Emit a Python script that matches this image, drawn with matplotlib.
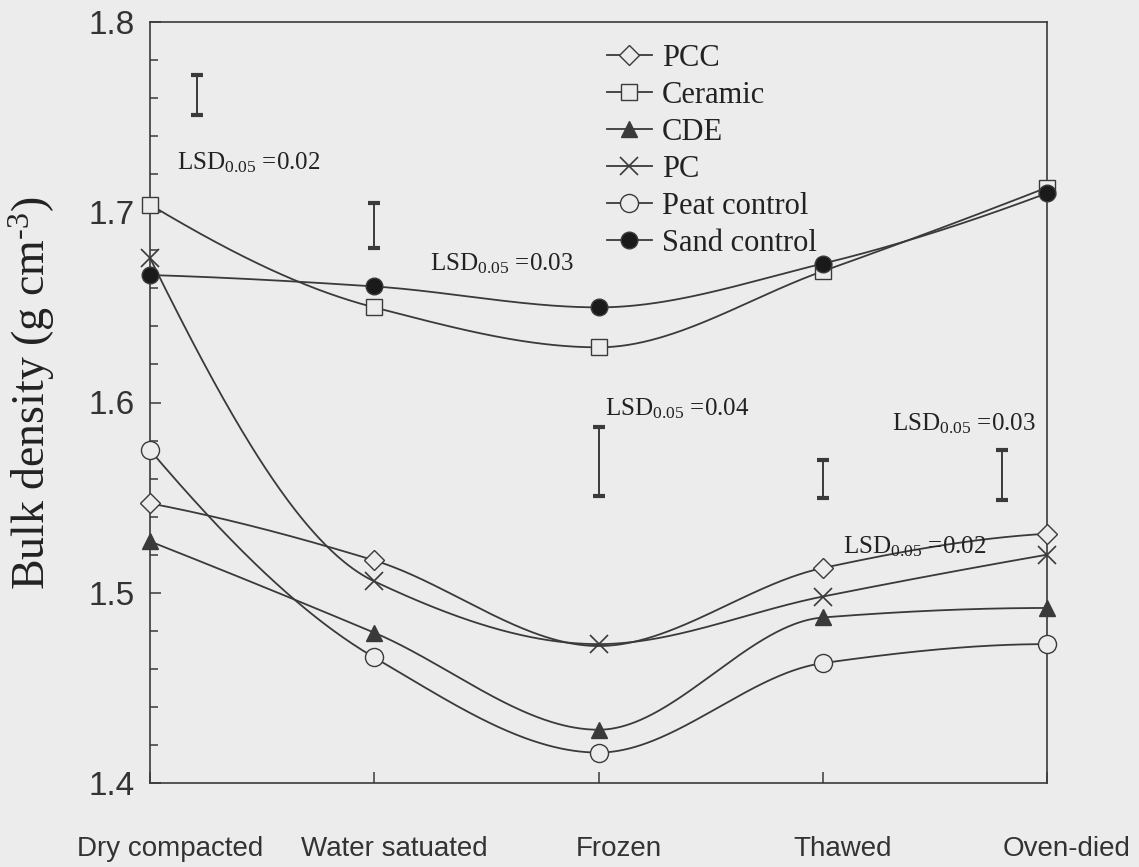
import numpy as np
import matplotlib
matplotlib.use("Agg")
import matplotlib.pyplot as plt
from matplotlib.ticker import MultipleLocator
import matplotlib.transforms as mtrans

plt.rcParams['mathtext.fontset'] = 'custom'
plt.rcParams['mathtext.rm'] = 'Liberation Serif'
plt.rcParams['mathtext.it'] = 'Liberation Serif:italic'
plt.rcParams['mathtext.bf'] = 'Liberation Serif:bold'

# ---------------- data ----------------
categories = ["Dry compacted", "Water satuated", "Frozen", "Thawed", "Oven-died"]
pcc      = [1.547, 1.517, 1.472, 1.513, 1.531]
ceramic  = [1.704, 1.650, 1.629, 1.669, 1.713]
cde      = [1.527, 1.479, 1.428, 1.487, 1.492]
pc       = [1.676, 1.506, 1.473, 1.498, 1.520]
peat     = [1.575, 1.466, 1.416, 1.463, 1.473]
sand     = [1.667, 1.661, 1.650, 1.673, 1.710]
series_labels = ["PCC", "Ceramic", "CDE", "PC", "Peat control", "Sand control"]

# LSD bars: x position (category units), low, high
lsd_x    = [0.21, 1.00, 2.00, 3.00, 3.80]
lsd_low  = [1.751, 1.681, 1.551, 1.550, 1.549]
lsd_high = [1.772, 1.705, 1.587, 1.570, 1.575]
lsd_texts = ["0.02", "0.03", "0.04", "0.03", "0.02"]
lsd_text_pos = [(0.12, 1.726), (1.25, 1.673), (2.03, 1.597), (3.31, 1.589), (3.09, 1.524)]

yticks = [1.4, 1.5, 1.6, 1.7, 1.8]

# ---------------- helpers ----------------
def pchip(x, y, xs):
    x = np.asarray(x, float); y = np.asarray(y, float)
    n = len(x)
    h = np.diff(x); delta = np.diff(y) / h
    d = np.zeros(n)
    for k in range(1, n - 1):
        if delta[k - 1] * delta[k] <= 0:
            d[k] = 0.0
        else:
            w1 = 2 * h[k] + h[k - 1]; w2 = h[k] + 2 * h[k - 1]
            d[k] = (w1 + w2) / (w1 / delta[k - 1] + w2 / delta[k])
    def endpt(h0, h1, d0, d1):
        dd = ((2 * h0 + h1) * d0 - h0 * d1) / (h0 + h1)
        if np.sign(dd) != np.sign(d0):
            dd = 0.0
        elif np.sign(d0) != np.sign(d1) and abs(dd) > abs(3 * d0):
            dd = 3 * d0
        return dd
    d[0] = endpt(h[0], h[1], delta[0], delta[1])
    d[-1] = endpt(h[-1], h[-2], delta[-1], delta[-2])
    ys = np.empty_like(xs)
    idx = np.clip(np.searchsorted(x, xs) - 1, 0, n - 2)
    for i, xv in enumerate(xs):
        k = idx[i]
        t = (xv - x[k]) / h[k]
        h00 = 2 * t**3 - 3 * t**2 + 1
        h10 = t**3 - 2 * t**2 + t
        h01 = -2 * t**3 + 3 * t**2
        h11 = t**3 - t**2
        ys[i] = h00 * y[k] + h10 * h[k] * d[k] + h01 * y[k + 1] + h11 * h[k] * d[k + 1]
    return ys

# ---------------- figure ----------------
BG = '#ececec'
LC = '#3a3a3a'
fig = plt.figure(figsize=(11.39, 8.67), dpi=100, facecolor=BG)
ax = fig.add_axes([150/1139, 1 - 783/867, 897/1139, 761/867], facecolor=BG)

x = np.arange(len(categories))
xs = np.linspace(0, len(categories) - 1, 600)

styles = [
    dict(marker='D', ms=10, mfc=BG, markevery=[0, 1, 3, 4]),
    dict(marker='s', ms=11, mfc=BG),
    dict(marker='^', ms=12, mfc=LC),
    dict(marker='x', ms=13, mfc=BG, mew=1.2),
    dict(marker='o', ms=13, mfc=BG),
    dict(marker='o', ms=12, mfc='#1a1a1a'),
]
all_series = [pcc, ceramic, cde, pc, peat, sand]
handles = []
for vals, lab, st in zip(all_series, series_labels, styles):
    ax.plot(xs, pchip(x, vals, xs), color=LC, lw=1.3, zorder=2, clip_on=False)
    mew = st.pop('mew', 1.0)
    mevery = st.pop('markevery', None)
    ax.plot(x, vals, linestyle='None', markeredgecolor=LC, markevery=mevery,
            markeredgewidth=mew, zorder=3, clip_on=False, **st)
    lh, = ax.plot([], [], linestyle='-', color=LC, lw=1.3, markeredgecolor=LC,
                  markeredgewidth=mew, label=lab, **st)
    handles.append(lh)

# LSD bars
lsd_mid = [(a + b) / 2 for a, b in zip(lsd_low, lsd_high)]
lsd_err = [(b - a) / 2 for a, b in zip(lsd_low, lsd_high)]
ax.errorbar(lsd_x, lsd_mid, yerr=lsd_err, fmt='none', ecolor=LC, elinewidth=1.4,
            capsize=4.5, capthick=3, zorder=3)
for txt, (tx, ty) in zip(lsd_texts, lsd_text_pos):
    ax.text(tx, ty, r"LSD$_{\mathrm{0.05}}$ =" + txt, fontsize=18, family='Liberation Serif',
            ha='left', va='center', color='#222222')

ax.set_xlim(0, len(categories) - 1)
ax.set_ylim(yticks[0], yticks[-1])
ax.set_yticks(yticks)
ax.set_yticklabels([f"{v:.1f}" for v in yticks])
ax.yaxis.set_minor_locator(MultipleLocator(0.02))
ax.set_xticks(x)
ax.set_xticklabels(categories)
ax.tick_params(axis='both', which='major', direction='in', length=8, width=1.1, color=LC)
ax.tick_params(axis='y', which='minor', direction='in', length=6, width=1.1, color=LC)
ax.tick_params(axis='y', labelsize=24, pad=11, labelcolor='#333333')
ax.tick_params(axis='x', labelsize=20, pad=38, labelcolor='#333333')
for lab in ax.get_yticklabels() + ax.get_xticklabels():
    lab.set_family('Liberation Sans')
off = mtrans.ScaledTranslation(20/100, 0, fig.dpi_scale_trans)
for lab in ax.get_xticklabels():
    lab.set_transform(lab.get_transform() + off)

for s in ax.spines.values():
    s.set_color(LC)
    s.set_linewidth(1.2)

leg = ax.legend(handles=handles, loc='upper left', bbox_to_anchor=(0.509, 0.971),
                frameon=False, prop=dict(family='Liberation Serif', size=22),
                handlelength=1.5, handletextpad=0.3, labelspacing=0.26,
                borderaxespad=0, borderpad=0)
for t in leg.get_texts():
    t.set_color('#222222')

fig.text(32/1139, 1 - 393/867, r"Bulk density (g cm$^{\text{-3}}$)", rotation=90,
         ha='center', va='center', fontsize=33, family='Liberation Serif', color='#222222')

fig.savefig("out.png", dpi=100, facecolor=BG)
